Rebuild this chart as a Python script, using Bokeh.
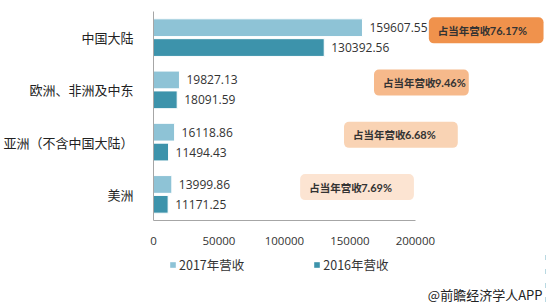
from bokeh.plotting import figure
from bokeh.layouts import column
from bokeh.models import (FactorRange, Legend, LegendItem, Label, BoxAnnotation, ColumnDataSource,
                          FixedTicker, BasicTickFormatter, Range1d)
from bokeh.core.properties import value
from bokeh.transform import dodge
from bokeh.embed import file_html
from bokeh.resources import INLINE

regions = ["美洲", "亚洲（不含中国大陆）", "欧洲、非洲及中东", "中国大陆"]
rev_2017 = [13999.86, 16118.86, 19827.13, 159607.55]
rev_2016 = [11171.25, 11494.43, 18091.59, 130392.56]
share_prefix = "占当年营收"
share_pct = ["7.69%", "6.68%", "9.46%", "76.17%"]
x_ticks = [0, 50000, 100000, 150000, 200000]
series_names = ["2017年营收", "2016年营收"]
source_note = "@前瞻经济学人APP"

c17 = "#8EC3D6"
c16 = "#3D93AB"
box_colors = ["#FCE4D2", "#F9D3B4", "#F6B98B", "#F0924C"]
# annotation box extents (layout only)
box_left = [112000, 145500, 168400, 210300]
box_right = [198900, 232400, 240800, 297900]

src = ColumnDataSource(dict(
    region=regions, r17=rev_2017, r16=rev_2016,
    t17=[f"{v:.2f}" for v in rev_2017], t16=[f"{v:.2f}" for v in rev_2016],
))

p = figure(width=548, height=250, output_backend="svg", toolbar_location=None,
           y_range=FactorRange(factors=regions, range_padding=0),
           x_range=(0, 299400),
           min_border_left=152, min_border_right=3, min_border_top=11, min_border_bottom=30)
p.outline_line_color = None
p.grid.grid_line_color = None

r1 = p.hbar(y=dodge("region", 0.19, range=p.y_range), right="r17", left=0, height=0.34,
            source=src, fill_color=c17, line_color="white", line_width=1)
r2 = p.hbar(y=dodge("region", -0.19, range=p.y_range), right="r16", left=0, height=0.34,
            source=src, fill_color=c16, line_color="white", line_width=1)

p.text(x="r17", y=dodge("region", 0.19, range=p.y_range), text="t17", source=src,
       x_offset=7, text_baseline="middle", text_font_size="12px", text_color="#333333",
       text_font=value("Open Sans"))
p.text(x="r16", y=dodge("region", -0.19, range=p.y_range), text="t16", source=src,
       x_offset=7, text_baseline="middle", text_font_size="12px", text_color="#333333",
       text_font=value("Open Sans"))

for i, pct in enumerate(share_pct):
    p.add_layout(BoxAnnotation(left=box_left[i], right=box_right[i], bottom=i + 0.39, top=i + 0.89,
                               fill_color=box_colors[i], fill_alpha=1, line_color=None,
                               border_radius=5))
    p.add_layout(Label(x=box_left[i], y=i + 0.64, text=share_prefix, x_offset=9,
                       text_baseline="middle", text_font_size="10.5px", text_font_style="bold",
                       text_color="#333333", text_font="Noto Sans CJK SC"))
    p.add_layout(Label(x=box_left[i], y=i + 0.64, text=pct, x_offset=61,
                       text_baseline="middle", text_font_size="11px", text_font_style="bold",
                       text_color="#333333", text_font="Lato"))

xa = p.xaxis[0]
xa.ticker = FixedTicker(ticks=x_ticks)
xa.formatter = BasicTickFormatter(use_scientific=False)
xa.bounds = (0, 200000)
xa.major_tick_line_color = None
xa.minor_tick_line_color = None
xa.axis_line_color = "#A6A6A6"
xa.major_label_text_font = "Open Sans"
xa.major_label_text_font_size = "11.5px"
xa.major_label_text_color = "#333333"
xa.major_label_standoff = 10

ya = p.yaxis[0]
ya.major_tick_line_color = None
ya.minor_tick_line_color = None
ya.axis_line_color = "#A6A6A6"
ya.major_label_text_font = "Noto Sans CJK SC"
ya.major_label_text_font_size = "13px"
ya.major_label_text_color = "#222222"
ya.major_label_standoff = 14

# second strip for the legend and the source note; its bars sit outside its visible x range
p2 = figure(width=548, height=56, output_backend="svg", toolbar_location=None,
            x_range=Range1d(-3, -2), y_range=FactorRange(factors=regions),
            x_axis_type=None, y_axis_type=None,
            min_border_left=152, min_border_right=3, min_border_top=0, min_border_bottom=0)
p2.outline_line_color = None
p2.grid.grid_line_color = None
k1 = p2.hbar(y="region", right="r17", left=0, height=0.34, source=src,
             fill_color=c17, line_color=None)
k2 = p2.hbar(y="region", right="r16", left=0, height=0.34, source=src,
             fill_color=c16, line_color=None)
legend = Legend(items=[LegendItem(label=series_names[0], renderers=[k1]),
                       LegendItem(label=series_names[1], renderers=[k2])],
                orientation="horizontal", location=(16, 32),
                glyph_width=7, glyph_height=7, label_standoff=3, spacing=69,
                label_text_font="Noto Sans CJK SC", label_text_font_size="12.5px",
                label_text_color="#333333", border_line_color=None,
                background_fill_alpha=0, padding=0, margin=0)
p2.add_layout(legend, "center")
p2.add_layout(Label(x=389, y=12, x_units="screen", y_units="screen", text=source_note,
                    text_align="right", text_baseline="middle",
                    text_font="Noto Sans CJK SC", text_font_size="13px", text_color="#222222"))

open("out.html", "w").write(file_html(column(p, p2, spacing=0), INLINE))
